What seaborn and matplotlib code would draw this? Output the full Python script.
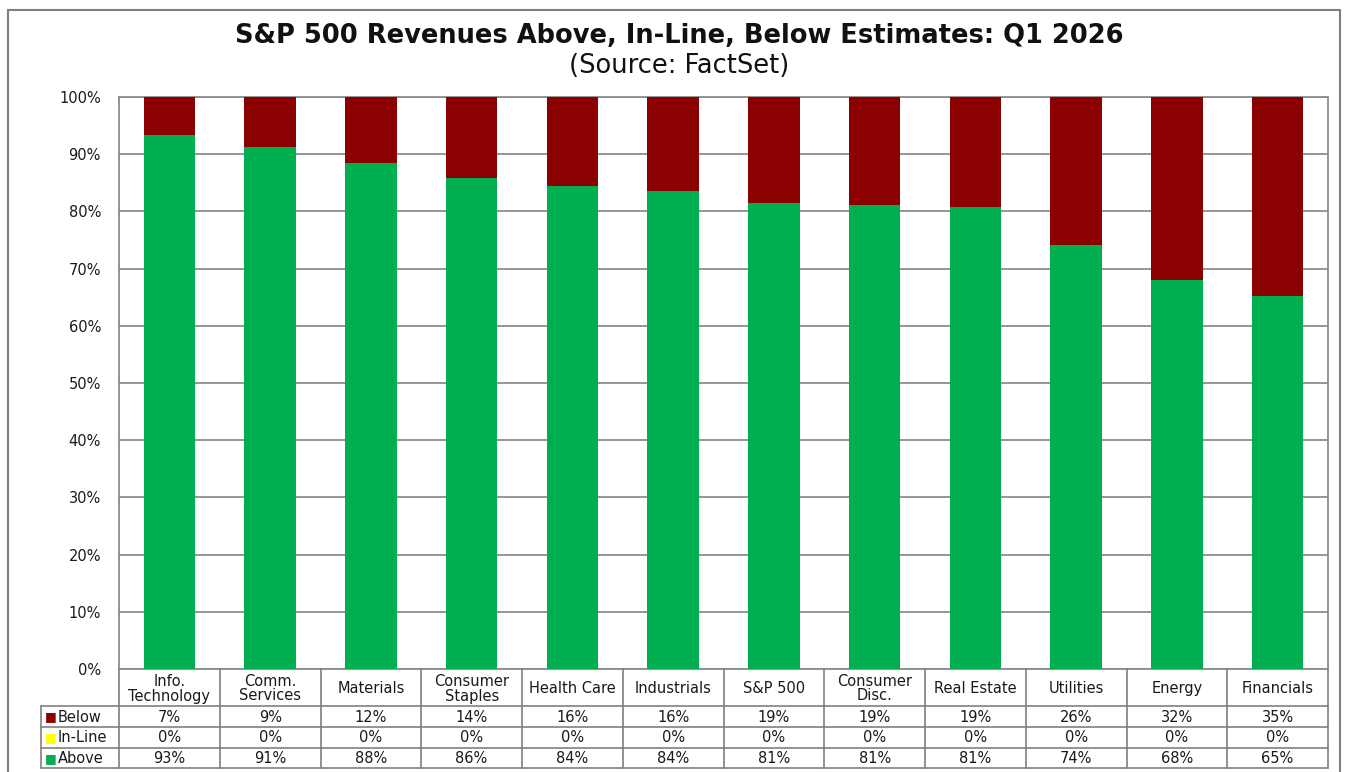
import matplotlib
matplotlib.use("Agg")
import matplotlib.pyplot as plt
from matplotlib.patches import Rectangle
import seaborn as sns
import pandas as pd

# ---------------- data ----------------
categories = ["Info.\nTechnology", "Comm.\nServices", "Materials", "Consumer\nStaples",
              "Health Care", "Industrials", "S&P 500", "Consumer\nDisc.", "Real Estate",
              "Utilities", "Energy", "Financials"]
above = [93.4, 91.3, 88.4, 85.8, 84.4, 83.6, 81.4, 81.2, 80.8, 74.1, 68.0, 65.2]
inline = [0, 0, 0, 0, 0, 0, 0, 0, 0, 0, 0, 0]
below = [6.6, 8.7, 11.6, 14.2, 15.6, 16.4, 18.6, 18.8, 19.2, 25.9, 32.0, 34.8]
series_names = ["Below", "In-Line", "Above"]
yticks = [0, 10, 20, 30, 40, 50, 60, 70, 80, 90, 100]
title = "S&P 500 Revenues Above, In-Line, Below Estimates: Q1 2026"
subtitle = "(Source: FactSet)"

RED = "#8B0000"
YELLOW = "#FFFF00"
GREEN = "#00B050"
GRID = "#8c8c8c"
TXT = "#1a1a1a"

sns.set_theme(style="white")
plt.rcParams['font.family'] = ['DejaVu Sans']

FS = 10.5
W, H = 1351, 772
fig = plt.figure(figsize=(W / 100, H / 100), dpi=100)

L, R, T, B = 119, 1328, 97, 669
ax = fig.add_axes([L / W, 1 - B / H, (R - L) / W, (B - T) / H])

df = pd.DataFrame({"cat": categories, "above": above, "inline": inline, "below": below})
df["mid"] = df["above"] + df["inline"]
df["top"] = df["mid"] + df["below"]

common = dict(data=df, x="cat", width=0.51, ax=ax, saturation=1, errorbar=None,
              linewidth=0, zorder=3)
sns.barplot(y="top", color=RED, **common)
sns.barplot(y="mid", color=YELLOW, **common)
sns.barplot(y="above", color=GREEN, **common)

ax.set_xlim(-0.5, len(categories) - 0.5)
ax.set_ylim(0, 100)
ax.set_yticks(yticks)
ax.set_yticklabels([f"{v}%" for v in yticks], fontsize=FS, color=TXT)
ax.tick_params(axis="y", length=0, pad=13)
ax.set_xticks([])
ax.set_xlabel("")
ax.set_ylabel("")
ax.yaxis.grid(True, color=GRID, lw=1.3)
ax.set_axisbelow(True)
for s in ax.spines.values():
    s.set_color(GRID)
    s.set_linewidth(1.3)

# ---------------- data table ----------------
y_rows = [669, 706, 727, 748, 768]
tab = fig.add_axes([L / W, 1 - 769 / H, (R - L) / W, (769 - 669) / H])
tab.set_xlim(-0.5, len(categories) - 0.5)
tab.set_ylim(769, 669)
tab.axis("off")
unit = (R - L) / len(categories)
lab_left = -0.5 - (L - 41) / unit
LC = "#808080"
lw = 1.2
n = len(categories)
for i in range(n + 1):
    tab.plot([i - 0.5, i - 0.5], [y_rows[0], y_rows[-1]], color=LC, lw=lw, clip_on=False)
tab.plot([lab_left, lab_left], [y_rows[1], y_rows[-1]], color=LC, lw=lw, clip_on=False)
for y in y_rows[1:]:
    tab.plot([lab_left, n - 0.5], [y, y], color=LC, lw=lw, clip_on=False)

for i, c in enumerate(categories):
    tab.text(i, (y_rows[0] + y_rows[1]) / 2 + 1, c, ha="center", va="center",
             fontsize=FS, color=TXT, linespacing=1.0)

rows = [(series_names[0], below, RED), (series_names[1], inline, YELLOW),
        (series_names[2], above, GREEN)]
for r, (name, vals, col) in enumerate(rows):
    yc = (y_rows[r + 1] + y_rows[r + 2]) / 2 + 0.5
    tab.text(lab_left + 0.04, yc, "\u25A0", ha="left", va="center", fontsize=9,
             color=col, clip_on=False)
    tab.text(lab_left + 0.165, yc, name, ha="left", va="center", fontsize=FS,
             color=TXT, clip_on=False)
    for i, v in enumerate(vals):
        tab.text(i, yc, f"{round(v):.0f}%", ha="center", va="center", fontsize=FS,
                 color=TXT)

# ---------------- titles & frame ----------------
fig.text(679 / W, 1 - 36 / H, title, ha="center", va="center",
         fontsize=18.5, fontweight="bold", color="#111111")
fig.text(679 / W, 1 - 66 / H, subtitle, ha="center", va="center",
         fontsize=18.5, color="#111111")
fig.patches.append(Rectangle((8 / W, -0.01), (1340 - 8) / W, (H - 10) / H + 0.01,
                             transform=fig.transFigure, fill=False,
                             edgecolor="#7f7f7f", lw=1.5))

fig.savefig("out.png", dpi=100)
